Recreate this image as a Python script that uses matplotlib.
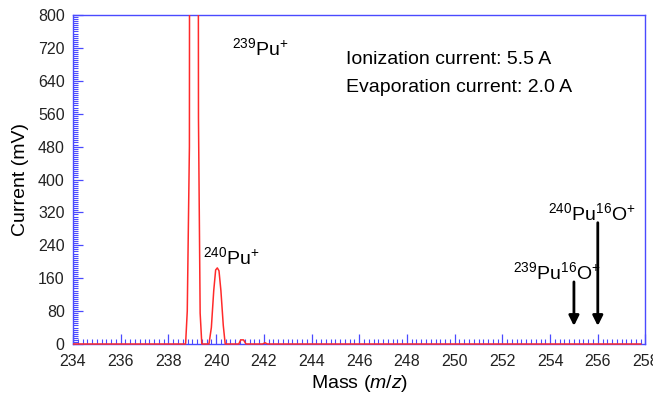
import matplotlib
matplotlib.use("Agg")
import matplotlib.pyplot as plt
from matplotlib.patches import Rectangle
from matplotlib.ticker import MultipleLocator

plt.rcParams['font.family'] = ['Liberation Sans', 'DejaVu Sans']
plt.rcParams['mathtext.fontset'] = 'custom'
plt.rcParams['mathtext.rm'] = 'Liberation Sans'
plt.rcParams['mathtext.it'] = 'Liberation Sans:italic'

# Spectrum (mass in m/z, current in mV); 239Pu+ peak is off-scale
mass = [234.0, 238.72, 238.79, 238.88, 238.91, 239.05, 239.22, 239.26, 239.33, 239.40,
        239.70, 239.80, 239.90, 239.98, 240.05, 240.12, 240.20, 240.30, 240.38,
        240.95, 241.03, 241.15, 241.25,
        241.95, 242.05, 242.15, 257.8]
current = [0, 0, 80, 480, 3000, 3300, 3000, 550, 75, 0,
           0, 40, 130, 180, 185, 178, 130, 45, 0,
           0, 10, 10, 0,
           0, 3, 0, 0]

xlim = (234, 258)
ylim = (0, 800)
x_major = 2
x_minor = 0.2
y_major = 80
y_minor = 5

info_lines = ["Ionization current: 5.5 A", "Evaporation current: 2.0 A"]
# arrows: (mass, start current, tip current)
arrow_mass = [255.0, 256.0]
arrow_from = [151, 295]
arrow_to = [44, 44]

blue = '#4a4aff'
red = '#ff2a2a'

fig = plt.figure(figsize=(6.53, 3.94), dpi=100)
ax = fig.add_axes([0.1118, 0.1269, 0.8767, 0.8350])

line, = ax.plot(mass, current, color=red, lw=1.1, zorder=3)
line.set_clip_path(Rectangle((0, -0.02), 1, 1.02, transform=ax.transAxes))

ax.set_xlim(*xlim)
ax.set_ylim(*ylim)
ax.xaxis.set_major_locator(MultipleLocator(x_major))
ax.xaxis.set_minor_locator(MultipleLocator(x_minor))
ax.yaxis.set_major_locator(MultipleLocator(y_major))
ax.yaxis.set_minor_locator(MultipleLocator(y_minor))

for s in ax.spines.values():
    s.set_color(blue)
    s.set_linewidth(1.0)

ax.tick_params(which='both', direction='in', color=blue, top=False, right=False)
ax.tick_params(which='major', length=7, width=0.9, labelsize=11.5, labelcolor='#222222')
ax.tick_params(axis='y', which='major', pad=6)
ax.tick_params(axis='x', which='major', pad=7)
ax.tick_params(which='minor', length=3.5, width=0.8)

ax.set_xlabel(r'Mass ($\mathit{m/z}$)', fontsize=14, labelpad=3)
ax.set_ylabel('Current (mV)', fontsize=14, labelpad=6)

fs_ion = 14
ax.text(240.65, 703, r'$^{239}$Pu$^{+}$', fontsize=fs_ion, ha='left', va='baseline')
ax.text(239.45, 195, r'$^{240}$Pu$^{+}$', fontsize=fs_ion, ha='left', va='baseline')
ax.text(252.45, 158, r'$^{239}$Pu$^{16}$O$^{+}$', fontsize=fs_ion, ha='left', va='baseline')
ax.text(253.9, 301, r'$^{240}$Pu$^{16}$O$^{+}$', fontsize=fs_ion, ha='left', va='baseline')

ax.text(245.45, 680, info_lines[0], fontsize=14, ha='left', va='baseline')
ax.text(245.45, 612, info_lines[1], fontsize=14, ha='left', va='baseline')

for m, y0, y1 in zip(arrow_mass, arrow_from, arrow_to):
    ax.annotate('', xy=(m, y1), xytext=(m, y0),
                arrowprops=dict(arrowstyle='-|>,head_length=0.6,head_width=0.3',
                                color='black', lw=2.0, shrinkA=0, shrinkB=0))

fig.savefig('out.png', dpi=100)
